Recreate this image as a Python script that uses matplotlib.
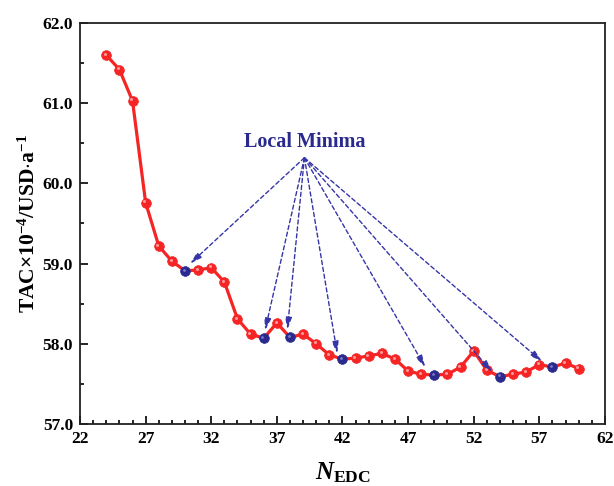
import matplotlib
matplotlib.use("Agg")
import matplotlib.pyplot as plt
from matplotlib.ticker import MultipleLocator, FixedLocator, FormatStrFormatter
from matplotlib.transforms import offset_copy

n_edc = [24, 25, 26, 27, 28, 29, 30, 31, 32, 33, 34, 35, 36, 37, 38, 39, 40, 41, 42,
         43, 44, 45, 46, 47, 48, 49, 50, 51, 52, 53, 54, 55, 56, 57, 58, 59, 60]
tac = [61.60, 61.42, 61.03, 59.76, 59.22, 59.03, 58.91, 58.92, 58.95, 58.77, 58.31,
       58.12, 58.07, 58.26, 58.08, 58.12, 58.00, 57.86, 57.81, 57.82, 57.85, 57.88,
       57.81, 57.66, 57.62, 57.61, 57.62, 57.71, 57.91, 57.67, 57.59, 57.62, 57.65,
       57.74, 57.71, 57.76, 57.69]
minima_n = [30, 36, 38, 42, 49, 54, 58]
x_ticks = [22, 27, 32, 37, 42, 47, 52, 57, 62]
annot_text = "Local Minima"
annot_origin = (39.1, 60.32)
arrow_tips = [(30.4, 59.00), (36.1, 58.17), (37.8, 58.18), (41.6, 57.88),
              (48.3, 57.71), (53.4, 57.65), (57.2, 57.78)]

plt.rcParams['font.family'] = ['Liberation Serif', 'DejaVu Serif']
plt.rcParams['mathtext.fontset'] = 'custom'
plt.rcParams['mathtext.rm'] = 'Liberation Serif:bold'
plt.rcParams['mathtext.it'] = 'Liberation Serif:italic:bold'
plt.rcParams['mathtext.bf'] = 'Liberation Serif:bold'

fig = plt.figure(figsize=(6.14, 4.86), dpi=100)
ax = fig.add_axes([0.1303, 0.1276, 0.8550, 0.8251])

red = '#f52525'
navy = '#2a2a8e'
ax.plot(n_edc, tac, color=red, lw=2.3, zorder=2)
other_idx = [i for i, n in enumerate(n_edc) if n not in minima_n]
ax.plot(n_edc, tac, 'o', ms=7, mfc=red, mec=red, mew=0.5, zorder=3,
        markevery=other_idx)
min_y = [tac[n_edc.index(n)] for n in minima_n]
ax.plot(minima_n, min_y, 'o', ms=7, mfc=navy, mec=navy, mew=0.5, zorder=4)
# highlights
hl = offset_copy(ax.transData, fig=fig, x=-1.3, y=1.3, units='dots')
ax.plot(n_edc, tac, 'o', ms=2.2, mfc='#ff9a9a', mec='none', zorder=5,
        markevery=other_idx, transform=hl)
ax.plot(minima_n, min_y, 'o', ms=2.0, mfc='#7a7ac4', mec='none', zorder=5,
        transform=hl)

for tip in arrow_tips:
    ax.annotate('', xy=tip, xytext=annot_origin,
                arrowprops=dict(arrowstyle='-|>,head_length=0.7,head_width=0.2',
                                color='#3535a8', lw=1.0, linestyle=(0, (3, 2)),
                                shrinkA=0, shrinkB=0), zorder=6)
ax.text(annot_origin[0], annot_origin[1] + 0.07, annot_text, ha='center', va='bottom',
        fontsize=14.5, fontweight='bold', color=navy)

ax.set_xlim(22, 62)
ax.set_ylim(57.0, 62.0)
ax.xaxis.set_major_locator(FixedLocator(x_ticks))
ax.xaxis.set_minor_locator(MultipleLocator(1))
ax.yaxis.set_major_locator(MultipleLocator(1.0))
ax.yaxis.set_minor_locator(MultipleLocator(0.5))
ax.yaxis.set_major_formatter(FormatStrFormatter('%.1f'))
ax.tick_params(which='both', direction='in', top=False, right=False, width=1.2)
ax.tick_params(which='major', length=6, labelsize=12.5, pad=5)
ax.tick_params(which='minor', length=3)
for lab in ax.get_xticklabels() + ax.get_yticklabels():
    lab.set_fontweight('bold')
for s in ax.spines.values():
    s.set_linewidth(1.3)
    s.set_color('#222222')

ax.set_xlabel(r'$N_{\mathbf{EDC}}$', fontsize=18, labelpad=10)
ax.set_ylabel(r'TAC$\times$10$^{-4}$/USD$\cdot$a$^{-1}$', fontsize=15.5,
              fontweight='bold', labelpad=2)

fig.savefig('out.png', dpi=100)
